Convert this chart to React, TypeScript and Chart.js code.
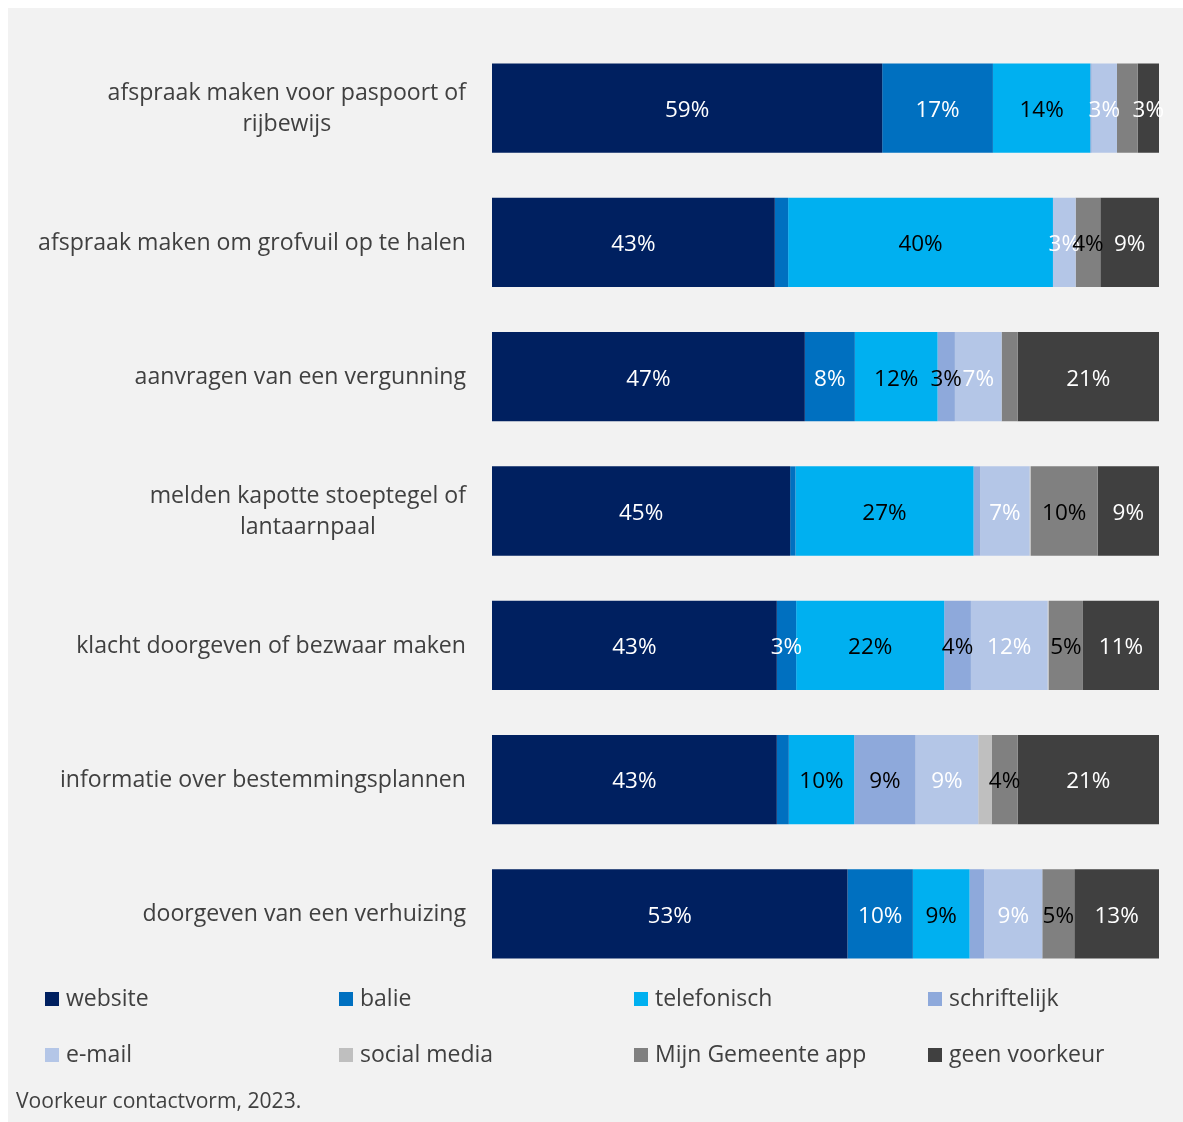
import React, { useEffect, useRef } from "react";
import { Chart, registerables } from "chart.js";

Chart.register(...registerables);

// ---- data ----
const categories: string[][] = [
  ["afspraak maken voor paspoort of", "rijbewijs"],
  ["afspraak maken om grofvuil op te halen"],
  ["aanvragen van een vergunning"],
  ["melden kapotte stoeptegel of", "lantaarnpaal"],
  ["klacht doorgeven of bezwaar maken"],
  ["informatie over bestemmingsplannen"],
  ["doorgeven van een verhuizing"],
];

const seriesNames = [
  "website",
  "balie",
  "telefonisch",
  "schriftelijk",
  "e-mail",
  "social media",
  "Mijn Gemeente app",
  "geen voorkeur",
];

const website = [58.5, 42.4, 46.9, 44.7, 42.7, 42.7, 53.3];
const balie = [16.6, 2.0, 7.5, 0.8, 2.9, 1.8, 9.8];
const telefonisch = [14.6, 39.7, 12.4, 26.7, 22.2, 9.8, 8.5];
const schriftelijk = [0.2, 0, 2.6, 1.0, 4.0, 9.2, 2.2];
const email = [3.8, 3.4, 7.0, 7.4, 11.5, 9.4, 8.7];
const socialMedia = [0, 0, 0, 0.2, 0.2, 2.0, 0];
const mijnApp = [3.1, 3.7, 2.4, 10.0, 5.1, 3.9, 4.8];
const geenVoorkeur = [3.2, 8.8, 21.2, 9.2, 11.4, 21.2, 12.7];

const websiteLabels = ["59%", "43%", "47%", "45%", "43%", "43%", "53%"];
const balieLabels = ["17%", "", "8%", "", "3%", "", "10%"];
const telefonischLabels = ["14%", "40%", "12%", "27%", "22%", "10%", "9%"];
const schriftelijkLabels = ["", "", "3%", "", "4%", "9%", ""];
const emailLabels = ["3%", "3%", "7%", "7%", "12%", "9%", "9%"];
const socialMediaLabels = ["", "", "", "", "", "", ""];
const mijnAppLabels = ["", "4%", "", "10%", "5%", "4%", "5%"];
const geenVoorkeurLabels = ["3%", "9%", "21%", "9%", "11%", "21%", "13%"];

const footnote = "Voorkeur contactvorm, 2023.";

// ---- styles ----
const seriesValues = [website, balie, telefonisch, schriftelijk, email, socialMedia, mijnApp, geenVoorkeur];
const seriesLabels = [
  websiteLabels,
  balieLabels,
  telefonischLabels,
  schriftelijkLabels,
  emailLabels,
  socialMediaLabels,
  mijnAppLabels,
  geenVoorkeurLabels,
];
const colors = ["#002060", "#0070C0", "#00B0F0", "#8EA9DB", "#B4C6E7", "#BFBFBF", "#808080", "#404040"];
const labelColors = ["#FFFFFF", "#FFFFFF", "#000000", "#000000", "#FFFFFF", "#000000", "#000000", "#FFFFFF"];

const W = 1175;
const H = 1114;
const FONT = '"Open Sans", "Noto Sans", sans-serif';
const TEXT = "#404040";

const overlayPlugin = {
  id: "overlay",
  afterDatasetsDraw(chart: any) {
    const ctx = chart.ctx as CanvasRenderingContext2D;
    ctx.save();
    // data labels
    ctx.font = `22.5px ${FONT}`;
    ctx.textAlign = "center";
    ctx.textBaseline = "middle";
    chart.data.datasets.forEach((ds: any, di: number) => {
      const meta = chart.getDatasetMeta(di);
      meta.data.forEach((el: any, i: number) => {
        const txt = seriesLabels[di][i];
        if (!txt) return;
        const cx = (el.x + el.base) / 2;
        ctx.fillStyle = labelColors[di];
        ctx.fillText(txt, cx, el.y + 2.5);
      });
    });

    // category labels
    const yScale = chart.scales.y;
    ctx.font = `23.1px ${FONT}`;
    ctx.fillStyle = TEXT;
    const rightEdge = chart.chartArea.left - 26;
    categories.forEach((lines, i) => {
      const y = yScale.getPixelForValue(i) + 1;
      const widest = Math.max(...lines.map((l) => ctx.measureText(l).width));
      const cx = rightEdge - widest / 2;
      const lh = 31;
      lines.forEach((l, j) => {
        ctx.fillText(l, cx, y + (j - (lines.length - 1) / 2) * lh);
      });
    });

    // legend
    const colX = [37, 331, 626, 920];
    const rowY = [991, 1047];
    ctx.textAlign = "left";
    ctx.font = `23px ${FONT}`;
    chart.data.datasets.forEach((ds: any, di: number) => {
      const x = colX[di % 4];
      const y = rowY[Math.floor(di / 4)];
      ctx.fillStyle = ds.backgroundColor;
      ctx.fillRect(x, y - 7, 14, 14);
      ctx.fillStyle = TEXT;
      ctx.fillText(ds.label, x + 21, y);
    });

    // footnote
    ctx.font = `21.1px ${FONT}`;
    ctx.fillStyle = TEXT;
    ctx.fillText(footnote, 8, 1094);
    ctx.restore();
  },
};

export default function App() {
  const ref = useRef<HTMLCanvasElement>(null);
  useEffect(() => {
    document.documentElement.style.overflow = "hidden";
    if (!ref.current) return;
    const chart = new Chart(ref.current, {
      type: "bar",
      data: {
        labels: categories.map((c) => c.join(" ")),
        datasets: seriesNames.map((name, i) => ({
          label: name,
          data: seriesValues[i],
          backgroundColor: colors[i],
          borderWidth: 0,
          barPercentage: 0.665,
          categoryPercentage: 1,
        })),
      },
      options: {
        indexAxis: "y",
        responsive: false,
        maintainAspectRatio: false,
        animation: false,
        layout: { padding: { left: 484, right: 24, top: 33, bottom: 141 } },
        scales: {
          x: { stacked: true, min: 0, max: 100, display: false },
          y: { stacked: true, display: false },
        },
        plugins: {
          legend: { display: false },
          tooltip: { enabled: false },
        },
      },
      plugins: [overlayPlugin],
    } as any);
    return () => chart.destroy();
  }, []);
  return (
    <div
      style={{
        position: "absolute",
        left: 8,
        top: 8,
        width: W,
        height: H,
        background: "#F2F2F2",
      }}
    >
      <canvas ref={ref} width={W} height={H} style={{ display: "block" }} />
    </div>
  );
}
